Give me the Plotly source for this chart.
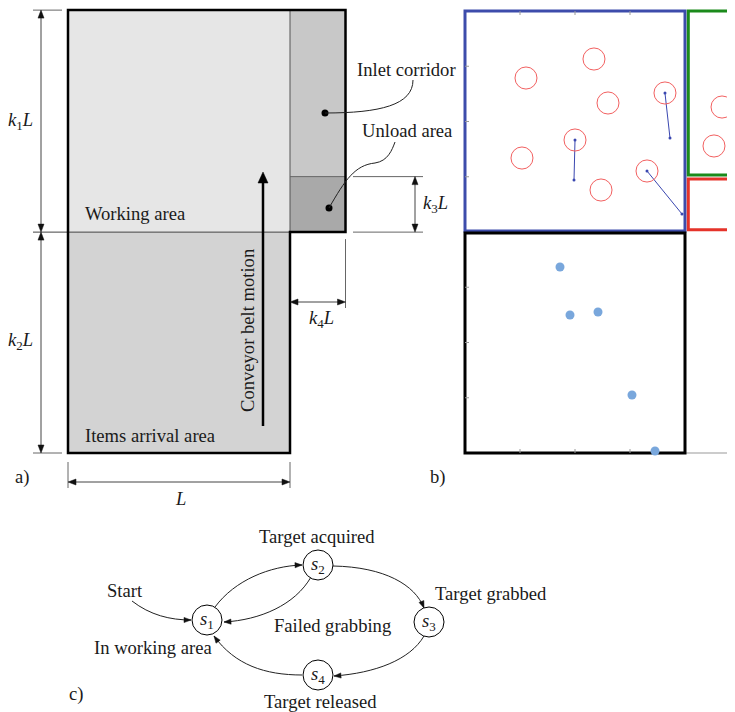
import math
import plotly.graph_objects as go

W, H = 735, 712          # browser window
OFF = 8                  # default page margin of the html body
FONT = "Liberation Serif"
TXT = dict(family=FONT, size=18.6, color="#1a1a1a")

# ---------------- Panel a: layout parameters ----------------
L_PX = 222                     # length L in pixels
K1, K2, K3, K4 = 1.0, 0.995, 0.25, 0.25
AX0, AY0 = 68, 453             # bottom-left corner of the arrival area

area_names = ["Working area", "Items arrival area", "Inlet corridor", "Unload area"]
area_fills = ["#e6e6e6", "#d3d3d3", "#c8c8c8", "#a9a9a9"]
dim_labels = ["<i>k</i><sub>1</sub><i>L</i>", "<i>k</i><sub>2</sub><i>L</i>",
              "<i>k</i><sub>3</sub><i>L</i>", "<i>k</i><sub>4</sub><i>L</i>", "<i>L</i>"]

# ---------------- Panel b: data ----------------
B_X0, B_Y0, B_SX, B_SY = 465, 453, 55.0, 55.25   # origin and pixel scale of panel b
b_xticks = [1, 2, 3]
b_yticks = [1, 2, 3, 5, 6, 7]
red_x = [1.109, 2.345, 2.600, 3.636, 2.000, 1.036, 3.309, 2.473]
red_y = [6.787, 7.131, 6.335, 6.516, 5.665, 5.339, 5.104, 4.760]
green_x = [4.673, 4.527]
green_y = [6.262, 5.557]
circ_r = 0.2
traj_x0 = [3.636, 2.000, 3.309]
traj_y0 = [6.516, 5.665, 5.104]
traj_x1 = [3.727, 1.982, 3.945]
traj_y1 = [5.701, 4.941, 4.326]
dot_x = [1.727, 1.909, 2.418, 3.036, 3.455]
dot_y = [3.367, 2.498, 2.552, 1.050, 0.036]

# ---------------- Panel c: state machine ----------------
state_names = ["<i>s</i><sub>1</sub>", "<i>s</i><sub>2</sub>",
               "<i>s</i><sub>3</sub>", "<i>s</i><sub>4</sub>"]
state_x = [207, 318, 429, 318]
state_y = [620, 565, 622, 675]
state_r = 15
edges = [
    [(132, 601), (150, 615), (170, 620), (191, 620)],   # Start -> s1
    [(215, 607), (235, 580), (270, 566), (302, 565)],   # s1 -> s2
    [(311, 577), (295, 605), (260, 620), (224, 622)],   # s2 -> s1
    [(333, 566), (385, 567), (415, 585), (424, 608)],   # s2 -> s3
    [(424, 636), (410, 660), (375, 673), (334, 676)],   # s3 -> s4
    [(302, 675), (265, 675), (235, 665), (214, 636)],   # s4 -> s1
]
c_labels = ["Start", "Target acquired", "Target grabbed", "Failed grabbing",
            "In working area", "Target released"]
c_label_x = [125, 317, 491, 332, 153, 320]
c_label_y = [590, 536, 593, 625, 647, 701]

fig = go.Figure()
shapes, annots = [], []

# ---- Panel a geometry ----
xl = AX0
xr = AX0 + L_PX
xi = xr + K4 * L_PX
yb = AY0
ym = AY0 - K2 * L_PX
yt = ym - K1 * L_PX
yu = ym - K3 * L_PX


def rect(x0, y0, x1, y1, fill):
    shapes.append(dict(type="rect", xref="x", yref="y", x0=x0, y0=y0, x1=x1, y1=y1,
                       fillcolor=fill, line=dict(width=0), layer="below"))


def seg(x0, y0, x1, y1, color="#555", width=1, xref="x", yref="y", layer="above"):
    shapes.append(dict(type="line", xref=xref, yref=yref, x0=x0, y0=y0, x1=x1, y1=y1,
                       line=dict(color=color, width=width), layer=layer))


def head(x1, y1, ux, uy, hl, hw, color):
    bx, by = x1 - hl * ux, y1 - hl * uy
    px_, py_ = -uy * hw, ux * hw
    shapes.append(dict(type="path", xref="x", yref="y",
                       path=f"M{x1:.2f},{y1:.2f} L{bx + px_:.2f},{by + py_:.2f} "
                            f"L{bx - px_:.2f},{by - py_:.2f} Z",
                       fillcolor=color, line=dict(color=color, width=0.5)))


def arrow(x0, y0, x1, y1, both=False, width=1, hl=8, hw=3, color="#111", lcolor=None):
    dx, dy = x1 - x0, y1 - y0
    n = math.hypot(dx, dy)
    ux, uy = dx / n, dy / n
    s = hl * 0.7 if both else 0
    seg(x0 + s * ux, y0 + s * uy, x1 - hl * 0.7 * ux, y1 - hl * 0.7 * uy, lcolor or color, width)
    head(x1, y1, ux, uy, hl, hw, color)
    if both:
        head(x0, y0, -ux, -uy, hl, hw, color)


def text(x, y, s, angle=0, xanchor="center"):
    annots.append(dict(x=x, y=y, xref="x", yref="y", text=s, showarrow=False,
                       font=TXT, textangle=angle, xanchor=xanchor, yanchor="middle"))


rect(xl, yt, xr, ym, area_fills[0])
rect(xl, ym, xr, yb, area_fills[1])
rect(xr, yt, xi, yu, area_fills[2])
rect(xr, yu, xi, ym, area_fills[3])

seg(xr, yt, xr, ym, "#555")
seg(xr, yu, xi, yu, "#666")
seg(33, ym, xr, ym, "#444")
shapes.append(dict(type="path", xref="x", yref="y",
                   path=f"M{xl},{yt} L{xi},{yt} L{xi},{ym} L{xr},{ym} L{xr},{yb} L{xl},{yb} Z",
                   line=dict(color="black", width=2.5)))

# extension lines
seg(33, yt, 62, yt, "#666")
seg(33, yb, 62, yb, "#666")
seg(353, yu, 423, yu, "#666")
seg(353, ym, 423, ym, "#666")
seg(xi, ym + 7, xi, 308, "#666")
seg(xl, yb + 9, xl, 488, "#666")
seg(xr, yb + 9, xr, 488, "#666")

# dimension arrows
arrow(41, ym, 41, yt, both=True, lcolor="#444")
arrow(41, yb, 41, ym, both=True, lcolor="#444")
arrow(415, ym, 415, yu, both=True, lcolor="#444")
arrow(xr, 302, xi, 302, both=True, lcolor="#444")
arrow(xl, 482, xr, 482, both=True, lcolor="#444")

text(20, (yt + ym) / 2, dim_labels[0])
text(20, (ym + yb) / 2 - 2, dim_labels[1])
text(435, (yu + ym) / 2, dim_labels[2])
text(321, 319, dim_labels[3])
text(180, 498, dim_labels[4])

text(83, 213, area_names[0], xanchor="left")
text(83, 435, area_names[1], xanchor="left")
text(406, 69, area_names[2])
text(407, 130, area_names[3])
text(247, 330, "Conveyor belt motion", angle=-90)
arrow(263, 426, 263, 172, width=2.5, hl=11, hw=5, color="black")

# leader curves
shapes.append(dict(type="path", xref="x", yref="y", path="M325,113 C380,113 413,105 413,80",
                   line=dict(color="#222", width=1)))
shapes.append(dict(type="path", xref="x", yref="y",
                   path="M329,208 C345,180 355,165 375,163 C388,161 392,150 395,142",
                   line=dict(color="#222", width=1)))
fig.add_trace(go.Scatter(x=[325, 329], y=[113, 208], mode="markers", xaxis="x", yaxis="y",
                         marker=dict(color="black", size=7), hoverinfo="skip"))

text(22, 477, "a)")
text(438, 477, "b)")
text(76, 694, "c)")

# ---- Panel b ----
def bseg(x0, y0, x1, y1, color="#999", width=1, layer="above"):
    shapes.append(dict(type="line", xref="x2", yref="y2", x0=x0, y0=y0, x1=x1, y1=y1,
                       line=dict(color=color, width=width), layer=layer))


bseg(0, 0, 6, 0, "#999", 1, "below")


def brect(x0, y0, x1, y1, color):
    shapes.append(dict(type="rect", xref="x2", yref="y2", x0=x0, y0=y0, x1=x1, y1=y1,
                       line=dict(color=color, width=3), fillcolor="rgba(0,0,0,0)", layer="below"))


brect(0, 4.02, 4, 8, "#3d4cab")
brect(0, 0, 4, 3.98, "black")
brect(4.06, 5.03, 6, 8, "#1b8a1b")
brect(4.06, 4.04, 6, 4.96, "#e5332a")

tl_x, tl_y = 4 / B_SX, 4 / B_SY
for v in b_xticks:
    bseg(v, 0, v, tl_y)
    bseg(v, 8, v, 8 - tl_y)
for v in b_yticks:
    bseg(0, v, tl_x, v)

for cx, cy in zip(red_x + green_x, red_y + green_y):
    shapes.append(dict(type="circle", xref="x2", yref="y2", x0=cx - circ_r, x1=cx + circ_r,
                       y0=cy - circ_r, y1=cy + circ_r, line=dict(color="#f26060", width=1)))
for x0, y0, x1, y1 in zip(traj_x0, traj_y0, traj_x1, traj_y1):
    fig.add_trace(go.Scatter(x=[x0, x1], y=[y0, y1], mode="lines+markers", xaxis="x2", yaxis="y2",
                             line=dict(color="#3a47b0", width=1), marker=dict(size=3, color="#3a47b0"),
                             hoverinfo="skip"))
fig.add_trace(go.Scatter(x=dot_x, y=dot_y, mode="markers", xaxis="x2", yaxis="y2", cliponaxis=False,
                         marker=dict(color="#79a7dc", size=9), hoverinfo="skip"))

# ---- Panel c ----
for (p0, c1, c2, p1) in edges:
    shapes.append(dict(type="path", xref="x", yref="y",
                       path=f"M{p0[0]},{p0[1]} C{c1[0]},{c1[1]} {c2[0]},{c2[1]} {p1[0]},{p1[1]}",
                       line=dict(color="#222", width=1)))
    dx, dy = p1[0] - c2[0], p1[1] - c2[1]
    n = math.hypot(dx, dy)
    head(p1[0], p1[1], dx / n, dy / n, 7, 2.6, "#111")

for name, cx, cy in zip(state_names, state_x, state_y):
    shapes.append(dict(type="circle", xref="x", yref="y", x0=cx - state_r, x1=cx + state_r,
                       y0=cy - state_r, y1=cy + state_r, line=dict(color="black", width=1),
                       fillcolor="white"))
    text(cx, cy, name)
for s, x, y in zip(c_labels, c_label_x, c_label_y):
    text(x, y, s)

# panel b axis ranges (slightly padded so rectangle borders are not clipped)
bx_lo, by_lo, by_hi = -0.1, -0.2, 8.04
bx_hi = (W - B_X0) / B_SX
FW, FH = W - OFF, H - OFF
scr_left = B_X0 + bx_lo * B_SX
scr_bot = B_Y0 - by_lo * B_SY
scr_top = B_Y0 - by_hi * B_SY

fig.update_layout(
    width=FW, height=FH, margin=dict(l=0, r=0, t=0, b=0),
    paper_bgcolor="white", plot_bgcolor="rgba(0,0,0,0)", showlegend=False,
    shapes=shapes, annotations=annots,
    xaxis=dict(range=[OFF, W], visible=False, domain=[0, 1], fixedrange=True),
    yaxis=dict(range=[H, OFF], visible=False, domain=[0, 1], fixedrange=True),
    xaxis2=dict(domain=[(scr_left - OFF) / FW, 1], range=[bx_lo, bx_hi], anchor="y2",
                visible=False, fixedrange=True),
    yaxis2=dict(domain=[max(0, (H - scr_bot) / FH), min(1, (H - scr_top) / FH)],
                range=[by_lo, by_hi], anchor="x2", visible=False, fixedrange=True),
)
fig.write_html("out.html")
